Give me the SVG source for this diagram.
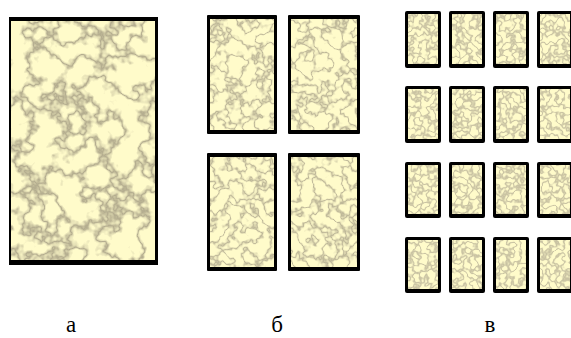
<svg xmlns="http://www.w3.org/2000/svg" width="571" height="338" viewBox="0 0 571 338">
<defs>
<style>
.frame{fill:#000}
.lbl{font-family:"Liberation Serif","Times New Roman",serif;font-size:23px;fill:#000;text-anchor:middle}
.tA{fill:#fff;filter:url(#texA)}
.tB{fill:#fff;filter:url(#texB)}
.tC{fill:#fff;filter:url(#texC)}
</style>
<filter id="texA" x="0" y="0" width="1" height="1" color-interpolation-filters="sRGB">
<feTurbulence type="fractalNoise" baseFrequency="0.035" numOctaves="4" seed="11" result="n"/>
<feColorMatrix in="n" type="matrix" values="0 0 0 0 0  0 0 0 0 0  0 0 0 0 0  0 0 0 1 0" result="m"/>
<feComponentTransfer in="m" result="v"><feFuncA type="table" tableValues="0 0 0 0 0 0 0 0 0 0.35 1 0.35 0 0 0 0 0 0 0 0 0"/></feComponentTransfer>
<feFlood flood-color="#b3ac8e" result="vc"/>
<feComposite in="vc" in2="v" operator="in" result="veins"/>
<feFlood flood-color="#fffbca" result="bg"/>
<feComposite in="veins" in2="bg" operator="over" result="c"/>
<feComposite in="c" in2="SourceGraphic" operator="in"/>
</filter>
<filter id="texB" x="0" y="0" width="1" height="1" color-interpolation-filters="sRGB">
<feTurbulence type="fractalNoise" baseFrequency="0.07" numOctaves="3" seed="3" result="n"/>
<feColorMatrix in="n" type="matrix" values="0 0 0 0 0  0 0 0 0 0  0 0 0 0 0  0 0 0 1 0" result="m"/>
<feComponentTransfer in="m" result="v"><feFuncA type="table" tableValues="0 0 0 0 0 0 0 0 0 0.3 0.95 0.3 0 0 0 0 0 0 0 0 0"/></feComponentTransfer>
<feFlood flood-color="#bab395" result="vc"/>
<feComposite in="vc" in2="v" operator="in" result="veins"/>
<feFlood flood-color="#fffbca" result="bg"/>
<feComposite in="veins" in2="bg" operator="over" result="c"/>
<feComposite in="c" in2="SourceGraphic" operator="in"/>
</filter>
<filter id="texC" x="0" y="0" width="1" height="1" color-interpolation-filters="sRGB">
<feTurbulence type="fractalNoise" baseFrequency="0.14" numOctaves="2" seed="5" result="n"/>
<feColorMatrix in="n" type="matrix" values="0 0 0 0 0  0 0 0 0 0  0 0 0 0 0  0 0 0 1 0" result="m"/>
<feComponentTransfer in="m" result="v"><feFuncA type="table" tableValues="0 0 0 0 0 0 0 0 0.1 0.6 0.9 0.6 0.1 0 0 0 0 0 0 0 0"/></feComponentTransfer>
<feFlood flood-color="#c2bb9d" result="vc"/>
<feComposite in="vc" in2="v" operator="in" result="veins"/>
<feFlood flood-color="#fffbca" result="bg"/>
<feComposite in="veins" in2="bg" operator="over" result="c"/>
<feComposite in="c" in2="SourceGraphic" operator="in"/>
</filter>
</defs>
<rect width="571" height="338" fill="#fff"/>

<g id="panel-a">
<rect class="frame" x="9" y="17" width="149" height="248"/>
<rect class="tA" x="11" y="21" width="144" height="239"/>
</g>

<g id="panel-b">
<g id="b1"><rect class="frame" x="207" y="15" width="70" height="119" rx="1"/><rect class="tB" x="210" y="19" width="64" height="111"/></g>
<g id="b2"><rect class="frame" x="288" y="15" width="72" height="119" rx="1"/><rect class="tB" x="291" y="19" width="66" height="111"/></g>
<g id="b3"><rect class="frame" x="207" y="153" width="70" height="118" rx="1"/><rect class="tB" x="210" y="157" width="64" height="110"/></g>
<g id="b4"><rect class="frame" x="288" y="153" width="72" height="118" rx="1"/><rect class="tB" x="291" y="157" width="66" height="110"/></g>
</g>

<g id="panel-v">
<g id="v11"><rect class="frame" x="405" y="11" width="36" height="57" rx="2"/><rect class="tC" x="408" y="14" width="30" height="50"/></g>
<g id="v12"><rect class="frame" x="449" y="11" width="36" height="57" rx="2"/><rect class="tC" x="452" y="14" width="30" height="50"/></g>
<g id="v13"><rect class="frame" x="493" y="11" width="36" height="57" rx="2"/><rect class="tC" x="496" y="14" width="30" height="50"/></g>
<g id="v14"><rect class="frame" x="537" y="11" width="36" height="57" rx="2"/><rect class="tC" x="540" y="14" width="30" height="50"/></g>
<g id="v21"><rect class="frame" x="405" y="86" width="36" height="57" rx="2"/><rect class="tC" x="408" y="89" width="30" height="50"/></g>
<g id="v22"><rect class="frame" x="449" y="86" width="36" height="57" rx="2"/><rect class="tC" x="452" y="89" width="30" height="50"/></g>
<g id="v23"><rect class="frame" x="493" y="86" width="36" height="57" rx="2"/><rect class="tC" x="496" y="89" width="30" height="50"/></g>
<g id="v24"><rect class="frame" x="537" y="86" width="36" height="57" rx="2"/><rect class="tC" x="540" y="89" width="30" height="50"/></g>
<g id="v31"><rect class="frame" x="405" y="162" width="36" height="56" rx="2"/><rect class="tC" x="408" y="165" width="30" height="49"/></g>
<g id="v32"><rect class="frame" x="449" y="162" width="36" height="56" rx="2"/><rect class="tC" x="452" y="165" width="30" height="49"/></g>
<g id="v33"><rect class="frame" x="493" y="162" width="36" height="56" rx="2"/><rect class="tC" x="496" y="165" width="30" height="49"/></g>
<g id="v34"><rect class="frame" x="537" y="162" width="36" height="56" rx="2"/><rect class="tC" x="540" y="165" width="30" height="49"/></g>
<g id="v41"><rect class="frame" x="405" y="237" width="36" height="56" rx="2"/><rect class="tC" x="408" y="240" width="30" height="49"/></g>
<g id="v42"><rect class="frame" x="449" y="237" width="36" height="56" rx="2"/><rect class="tC" x="452" y="240" width="30" height="49"/></g>
<g id="v43"><rect class="frame" x="493" y="237" width="36" height="56" rx="2"/><rect class="tC" x="496" y="240" width="30" height="49"/></g>
<g id="v44"><rect class="frame" x="537" y="237" width="36" height="56" rx="2"/><rect class="tC" x="540" y="240" width="30" height="49"/></g>
</g>

<g id="labels">
<text class="lbl" x="71" y="332">а</text>
<text class="lbl" x="277" y="332">б</text>
<text class="lbl" x="490" y="332">в</text>
</g>
</svg>
